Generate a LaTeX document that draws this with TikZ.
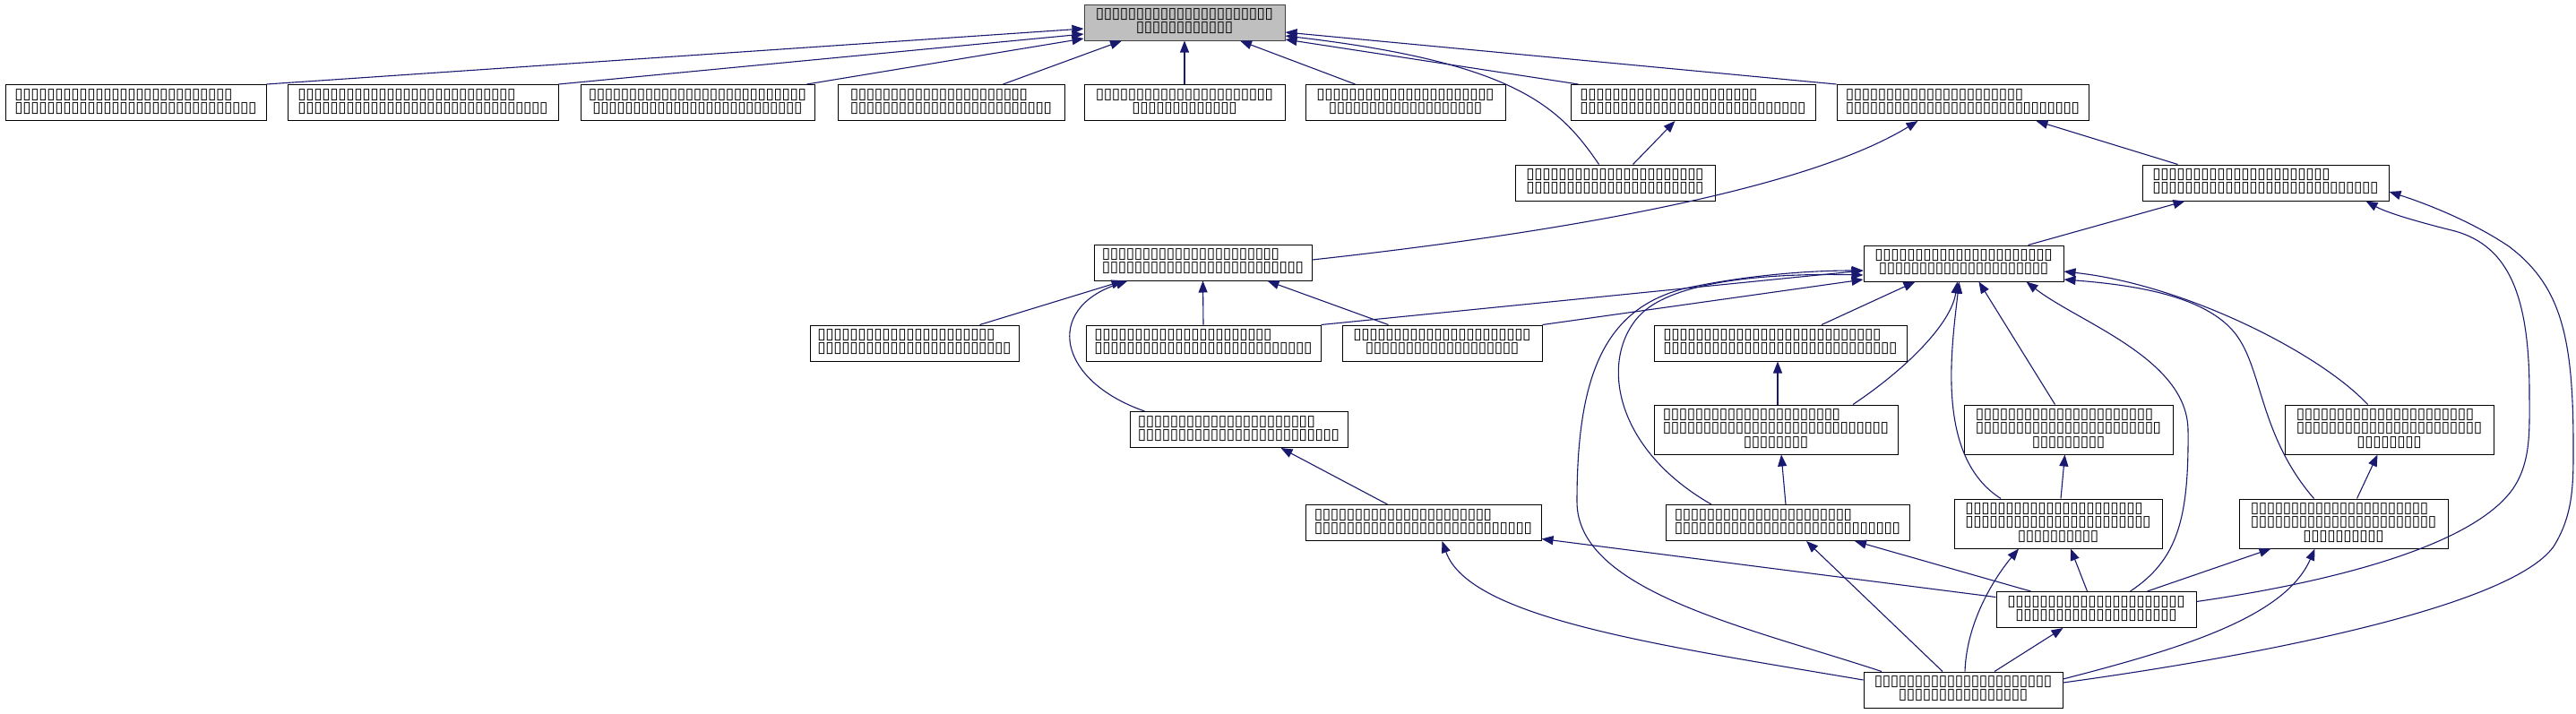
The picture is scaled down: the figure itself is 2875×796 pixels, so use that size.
\documentclass[tikz,border=0pt]{standalone}
\usepackage{fontspec}
\newfontfamily\tofufont{DejaVu Sans}
\usetikzlibrary{arrows.meta}
\definecolor{edgeblue}{HTML}{191970}
\definecolor{rootfill}{HTML}{BFBFBF}
\definecolor{rootdraw}{HTML}{404040}
\newcommand\tfc{\makebox[9pt]{\char"25AF}}
\newcommand\tf[1]{\ifnum#1>0 \tfc\expandafter\tf\expandafter{\the\numexpr#1-1\relax}\fi}
\newcommand\lblii[2]{\begin{tabular}{@{}c@{}}\multicolumn{1}{@{}l@{}}{\tf{#1}}\\\tf{#2}\end{tabular}}
\newcommand\lbliii[3]{\begin{tabular}{@{}c@{}}\multicolumn{1}{@{}l@{}}{\tf{#1}}\\\tf{#2}\\\tf{#3}\end{tabular}}
\tikzset{
  box/.style={draw=black, line width=1pt, fill=white, inner sep=0pt, minimum height=40pt,
    font=\tofufont\fontsize{17}{15}\selectfont},
  tall/.style={minimum height=55pt},
  rootbox/.style={box, draw=rootdraw, fill=rootfill},
  edge/.style={draw=edgeblue, line width=1.1pt, -{Triangle[length=13pt,width=10pt]}},
}
\begin{document}
\begin{tikzpicture}[x=1pt,y=-1pt]
\fill[white] (0,0) rectangle (2875,796);
\useasboundingbox (0,0) rectangle (2875,796);
% nodes
\node[rootbox, minimum width=224pt] (root) at (1322,25) {\lblii{22}{12}};
\node[box, minimum width=291pt] (n1) at (151.5,114.5) {\lblii{27}{30}};
\node[box, minimum width=302pt] (n2) at (472,114.5) {\lblii{27}{31}};
\node[box, minimum width=261pt] (n3) at (778.5,114.5) {\lblii{27}{26}};
\node[box, minimum width=253pt] (n4) at (1061.5,114.5) {\lblii{22}{25}};
\node[box, minimum width=224pt] (n5) at (1322,114.5) {\lblii{22}{13}};
\node[box, minimum width=223pt] (n6) at (1568.5,114.5) {\lblii{22}{19}};
\node[box, minimum width=273pt] (n7) at (1889.5,114.5) {\lblii{22}{28}};
\node[box, minimum width=281pt] (n8) at (2190.5,114.5) {\lblii{22}{29}};
\node[box, minimum width=223pt] (n9) at (1802.5,204) {\lblii{22}{22}};
\node[box, minimum width=275pt] (n10) at (2528.5,204) {\lblii{22}{28}};
\node[box, minimum width=243pt] (n11) at (1342.5,293) {\lblii{22}{25}};
\node[box, minimum width=223pt] (n12) at (2191.5,294) {\lblii{22}{21}};
\node[box, minimum width=233pt] (n13) at (1020.5,383) {\lblii{22}{24}};
\node[box, minimum width=262pt] (n14) at (1343,383) {\lblii{22}{27}};
\node[box, minimum width=223pt] (n15) at (1609.5,383) {\lblii{22}{19}};
\node[box, minimum width=282pt] (n16) at (1987,383) {\lblii{27}{29}};
\node[box, minimum width=243pt] (n17) at (1382.5,479.5) {\lblii{22}{25}};
\node[box, tall, minimum width=272pt] (n18) at (1982,479.5) {\lbliii{22}{28}{8}};
\node[box, tall, minimum width=233pt] (n19) at (2308.5,479.5) {\lbliii{22}{23}{9}};
\node[box, tall, minimum width=233pt] (n20) at (2666.5,479.5) {\lbliii{22}{23}{8}};
\node[box, minimum width=263pt] (n21) at (1588.5,583.5) {\lblii{22}{27}};
\node[box, minimum width=272pt] (n22) at (1995,583.5) {\lblii{22}{28}};
\node[box, tall, minimum width=232pt] (n23) at (2297,584.5) {\lbliii{22}{23}{10}};
\node[box, tall, minimum width=233pt] (n24) at (2615.5,584.5) {\lbliii{22}{23}{10}};
\node[box, minimum width=223pt] (n25) at (2339.5,680.5) {\lblii{22}{20}};
\node[box, minimum width=222pt] (n26) at (2191,770) {\lblii{22}{16}};
% connectors
\draw[edge] (n1.north east) -- ([yshift=-7pt]root.west);
\draw[edge] (n2.north east) -- ([yshift=-13pt]root.west);
\draw[edge] ([xshift=122pt]n3.north) -- ([yshift=-18pt]root.west);
\draw[edge] ([xshift=58pt]n4.north) -- ([xshift=-70pt]root.south);
\draw[edge] (n5.north) -- (root.south);
\draw[edge] ([xshift=-56pt]n6.north) -- ([xshift=62pt]root.south);
\draw[edge] ([xshift=-128pt]n7.north) -- ([yshift=-19pt]root.east);
\draw[edge] (n8.north west) -- ([yshift=-11pt]root.east);
\draw[edge] ([xshift=-18pt]n9.north) .. controls (1740,118) and (1690,70) .. ([yshift=-15pt]root.east);
\draw[edge] ([xshift=20pt]n9.north) -- ([xshift=-20pt]n7.south);
\draw[edge] ([xshift=-98pt]n10.north) -- ([xshift=82pt]n8.south);
\draw[edge] ([yshift=3pt]n11.east) .. controls (1720,262) and (2010,215) .. ([xshift=-50pt]n8.south);
\draw[edge] ([xshift=72pt]n12.north) -- ([xshift=-90pt]n10.south);
\draw[edge] ([xshift=73pt]n13.north) -- ([xshift=-89pt]n11.south);
\draw[edge] (n14.north) -- (n11.south);
\draw[edge] ([xshift=-60pt]n15.north) -- ([xshift=72pt]n11.south);
\draw[edge] ([xshift=-105pt]n17.north) .. controls (1180,425) and (1165,345) .. ([xshift=-84pt]n11.south);
\draw[edge] (n14.north east) -- ([yshift=-8pt]n12.west);
\draw[edge] (n15.north east) -- ([yshift=-18pt]n12.west);
\draw[edge] ([xshift=46pt]n16.north) -- ([xshift=-54pt]n12.south);
\draw[edge] ([xshift=86pt]n18.north) .. controls (2130,410) and (2178,360) .. ([xshift=-7pt]n12.south);
\draw[edge] ([xshift=-15pt]n19.north) -- ([xshift=17pt]n12.south);
\draw[edge] ([xshift=-24pt]n20.north) .. controls (2590,395) and (2440,318) .. ([yshift=-9pt]n12.east);
\draw[edge] ([xshift=-64pt]n23.north) .. controls (2160,510) and (2178,390) .. ([xshift=-5pt]n12.south);
\draw[edge] ([xshift=38pt]n25.north) .. controls (2430,625) and (2443,580) .. (2442,480)
   .. controls (2441,400) and (2320,360) .. ([xshift=70pt]n12.south);
\draw[edge] ([xshift=-33pt]n24.north) .. controls (2525,490) and (2525,420) .. (2500,380)
   .. controls (2470,330) and (2380,318) .. ([yshift=-18pt]n12.east);
\draw[edge] ([xshift=-85pt]n22.north) .. controls (1800,500) and (1785,400) .. (1830,352)
   .. controls (1870,310) and (1990,305) .. ([yshift=-13pt]n12.west);
\draw[edge] ([xshift=-91pt]n26.north) .. controls (1950,700) and (1760,660) .. (1760,560)
   .. controls (1760,420) and (1790,345) .. (1880,322)
   .. controls (1960,305) and (2030,302) .. ([yshift=-8pt]n12.west);
\draw[edge] ([xshift=2pt]n18.north) -- ([xshift=-3pt]n16.south);
\draw[edge] ([xshift=-2pt]n22.north) -- ([xshift=6pt]n18.south);
\draw[edge] ([xshift=3pt]n23.north) -- ([xshift=-4pt]n19.south);
\draw[edge] ([xshift=15pt]n24.north) -- ([xshift=-13pt]n20.south);
\draw[edge] ([xshift=-40pt]n21.north) -- ([xshift=47pt]n17.south);
\draw[edge] ([yshift=14pt]n25.west) -- ([yshift=-18pt]n21.east);
\draw[edge] ([yshift=11pt]n26.west) .. controls (1850,720) and (1640,690) .. ([xshift=21pt]n21.south);
\draw[edge] ([xshift=-73pt]n25.north) -- ([xshift=75pt]n22.south);
\draw[edge] ([xshift=-23pt]n26.north) -- ([xshift=21pt]n22.south);
\draw[edge] ([xshift=-10pt]n25.north) -- ([xshift=14pt]n23.south);
\draw[edge] ([xshift=2pt]n26.north) .. controls (2195,690) and (2230,640) .. ([xshift=-44pt]n23.south);
\draw[edge] ([xshift=57pt]n25.north) -- ([xshift=-81pt]n24.south);
\draw[edge] ([yshift=12pt]n26.east) .. controls (2430,725) and (2550,690) .. ([xshift=-32pt]n24.south);
\draw[edge] ([xshift=35pt]n26.north) -- ([xshift=-37pt]n25.south);
\draw[edge] ([yshift=9pt]n25.east) .. controls (2600,650) and (2760,610) .. (2805,545)
   .. controls (2825,515) and (2823,480) .. (2823,440)
   .. controls (2823,330) and (2800,275) .. (2740,258)
   .. controls (2700,248) and (2665,238) .. ([xshift=112pt]n10.south);
\draw[edge] ([yshift=8pt]n26.east) .. controls (2500,735) and (2800,680) .. (2850,610)
   .. controls (2872,575) and (2872,540) .. (2872,500)
   .. controls (2872,380) and (2860,320) .. (2800,275)
   .. controls (2760,248) and (2710,228) .. ([yshift=-10pt]n10.east);
\end{tikzpicture}
\end{document}
